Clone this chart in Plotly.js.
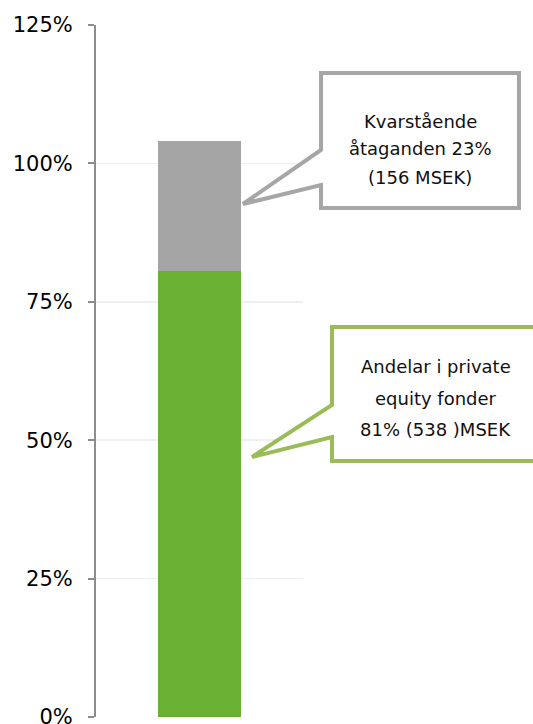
<!DOCTYPE html>
<html>
<head>
<meta charset="utf-8">
<script src="https://cdn.plot.ly/plotly-3.0.1.min.js"></script>
<style>html,body{margin:0;padding:0;background:#fff;}#chart{width:533px;height:724px;}</style>
</head>
<body>
<div id="chart"></div>
<script>
const categories = ['Portfölj'];
const andelarValues = [80.6];
const kvarstaendeValues = [23.5];
const tickValues = [0, 25, 50, 75, 100, 125];
const tickLabels = ['0%', '25%', '50%', '75%', '100%', '125%'];
const grayLines = ['Kvarstående', 'åtaganden 23%', '(156 MSEK)'];
const greenLines = ['Andelar i private', 'equity fonder', '81% (538 )MSEK'];

const W = 533, H = 724;
const L = 96, R = 303, T = 25, B = 717;
const px = x => (x - L) / (R - L);
const py = y => (B - y) / (B - T);
function path(pts) {
  return 'M ' + pts.map(p => px(p[0]).toFixed(5) + ',' + py(p[1]).toFixed(5)).join(' L ') + ' Z';
}

const font = 'DejaVu Sans, Verdana, sans-serif';

const traces = [
  {type: 'bar', x: categories, y: andelarValues, marker: {color: '#6AB033'}, width: 0.4, hoverinfo: 'skip'},
  {type: 'bar', x: categories, y: kvarstaendeValues, marker: {color: '#A5A5A5'}, width: 0.4, hoverinfo: 'skip'}
];

const shapes = [
  {type: 'path', xref: 'paper', yref: 'paper',
   path: path([[321,73],[519,73],[519,208],[321,208],[321,185],[243,204],[321,150]]),
   fillcolor: '#FFFFFF', line: {color: '#A6A6A6', width: 4}},
  {type: 'path', xref: 'paper', yref: 'paper',
   path: path([[332,327],[548,327],[548,461],[332,461],[332,437],[252,457],[332,405]]),
   fillcolor: '#FFFFFF', line: {color: '#9BBB59', width: 4}}
];

const annotations = [];
const grayY = [121, 149, 178];
grayLines.forEach((t, i) => annotations.push({
  xref: 'paper', yref: 'paper', x: px(420), y: py(grayY[i]), text: t, showarrow: false,
  xanchor: 'center', yanchor: 'middle', font: {family: font, size: 18, color: '#111111'}
}));
const greenY = [367, 398, 430];
greenLines.forEach((t, i) => annotations.push({
  xref: 'paper', yref: 'paper', x: px(435.5), y: py(greenY[i]), text: t, showarrow: false,
  xanchor: 'center', yanchor: 'middle', font: {family: font, size: 18, color: '#111111'}
}));

const layout = {
  width: W, height: H,
  margin: {l: L, r: W - R, t: T, b: H - B, pad: 0},
  paper_bgcolor: '#FFFFFF', plot_bgcolor: '#FFFFFF',
  barmode: 'stack', showlegend: false,
  font: {family: font, size: 21, color: '#000000'},
  xaxis: {type: 'category', range: [-0.5, 0.5], showticklabels: false, showgrid: false,
          showline: false, zeroline: false, ticks: '', fixedrange: true},
  yaxis: {range: [0, 125], tickvals: tickValues, ticktext: tickLabels,
          showgrid: true, gridcolor: '#EFEFEF', gridwidth: 1.5,
          showline: true, linecolor: '#8C8C8C', linewidth: 2,
          ticks: 'outside', ticklen: 6, tickwidth: 2, tickcolor: '#8C8C8C',
          ticklabelstandoff: 11, ticklabeloverflow: 'allow', zeroline: false,
          tickfont: {family: font, size: 21, color: '#000000'}, fixedrange: true},
  shapes: shapes,
  annotations: annotations
};

Plotly.newPlot('chart', traces, layout, {displayModeBar: false, staticPlot: true});
</script>
</body>
</html>
